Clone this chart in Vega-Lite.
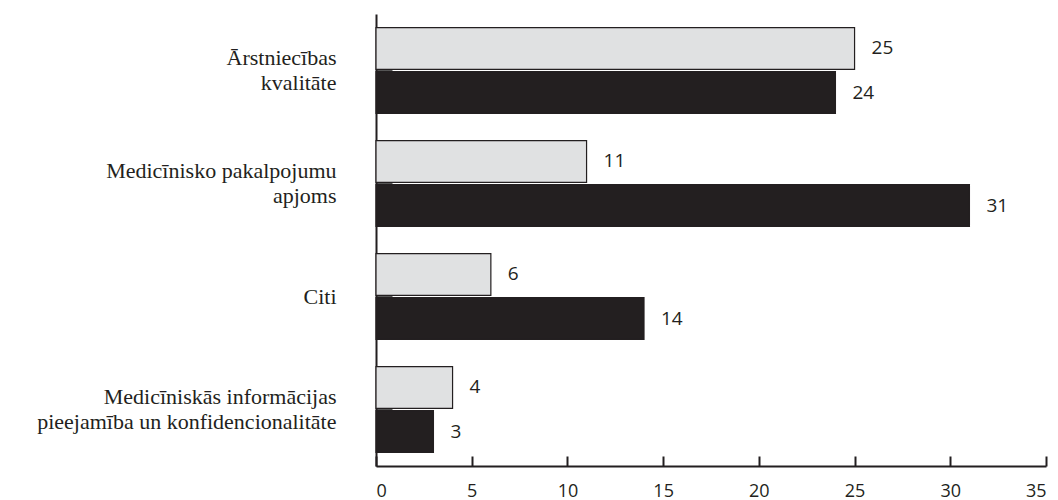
{
  "$schema": "https://vega.github.io/schema/vega-lite/v6.json",
  "width": 670,
  "height": 452,
  "autosize": {"type": "none"},
  "padding": {"left": 376, "top": 14, "right": 12, "bottom": 34},
  "background": "white",
  "data": {
    "values": [
      {"kategorija": "Ārstniecības|kvalitāte", "grupa": "A", "vertiba": 25},
      {"kategorija": "Ārstniecības|kvalitāte", "grupa": "B", "vertiba": 24},
      {"kategorija": "Medicīnisko pakalpojumu|apjoms", "grupa": "A", "vertiba": 11},
      {"kategorija": "Medicīnisko pakalpojumu|apjoms", "grupa": "B", "vertiba": 31},
      {"kategorija": "Citi", "grupa": "A", "vertiba": 6},
      {"kategorija": "Citi", "grupa": "B", "vertiba": 14},
      {"kategorija": "Medicīniskās informācijas|pieejamība un konfidencionalitāte", "grupa": "A", "vertiba": 4},
      {"kategorija": "Medicīniskās informācijas|pieejamība un konfidencionalitāte", "grupa": "B", "vertiba": 3}
    ]
  },
  "encoding": {
    "y": {
      "field": "kategorija",
      "type": "nominal",
      "sort": null,
      "scale": {"paddingInner": 0.24, "paddingOuter": 0.12},
      "axis": {
        "title": null,
        "labelExpr": "split(datum.label, '|')",
        "labelFont": "Liberation Serif",
        "labelFontSize": 22,
        "labelLineHeight": 25,
        "labelColor": "#231f20",
        "labelPadding": 56,
        "labelLimit": 400,
        "labelOffset": {"condition": {"test": "datum.value == 'Citi'", "value": 0}, "value": -12.5},
        "domainColor": "#231f20",
        "domainWidth": 2,
        "ticks": true,
        "tickSize": -16,
        "tickColor": "#555555",
        "tickWidth": 2
      }
    },
    "yOffset": {
      "field": "grupa",
      "type": "nominal",
      "scale": {"paddingInner": 0.05}
    },
    "x": {
      "field": "vertiba",
      "type": "quantitative",
      "scale": {"domain": [0, 35], "nice": false},
      "axis": {
        "title": null,
        "values": [0, 5, 10, 15, 20, 25, 30, 35],
        "grid": false,
        "labelFont": "Open Sans",
        "labelFontSize": 18,
        "labelColor": "#231f20",
        "labelPadding": 26,
        "domainColor": "#231f20",
        "domainWidth": 2,
        "tickColor": "#231f20",
        "tickWidth": 2,
        "tickSize": -10
      }
    }
  },
  "layer": [
    {
      "mark": {"type": "bar", "stroke": "#231f20", "strokeWidth": 1.2},
      "encoding": {
        "color": {
          "field": "grupa",
          "type": "nominal",
          "scale": {"domain": ["A", "B"], "range": ["#e0e1e2", "#231f20"]},
          "legend": null
        }
      }
    },
    {
      "mark": {"type": "text", "align": "left", "baseline": "middle", "dx": 17, "font": "Open Sans", "fontSize": 19, "color": "#231f20"},
      "encoding": {
        "text": {"field": "vertiba", "type": "quantitative"}
      }
    }
  ],
  "config": {"view": {"stroke": null}}
}
